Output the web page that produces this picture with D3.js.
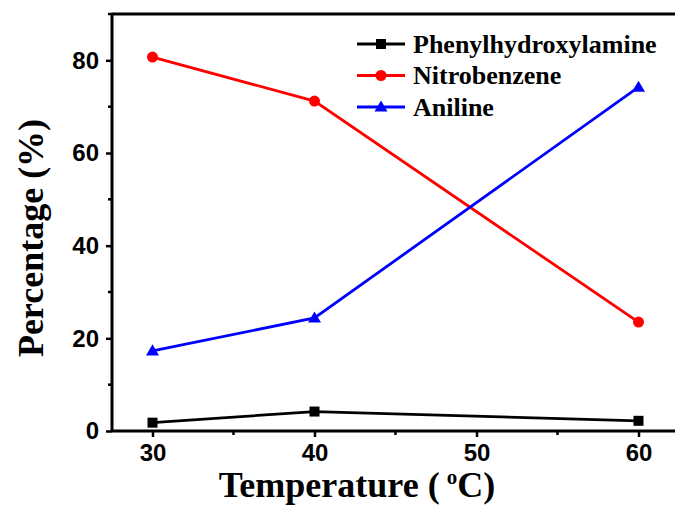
<!DOCTYPE html>
<html>
<head>
<meta charset="utf-8">
<script src="https://cdn.jsdelivr.net/npm/d3@7"></script>
<style>
  html, body { margin: 0; padding: 0; background: #fff; }
  svg { display: block; }
</style>
</head>
<body>
<svg id="chart" width="675" height="508"></svg>
<script>
// Reaction temperatures (°C)
const temperatures = [30, 40, 60];
// Product distribution (%) at each temperature
const phenylhydroxylamine = [1.8, 4.2, 2.2];
const nitrobenzene = [80.7, 71.2, 23.5];
const aniline = [17.3, 24.4, 74.2];
const seriesNames = ["Phenylhydroxylamine", "Nitrobenzene", "Aniline"];
const xTicks = [30, 40, 50, 60];
const yTicks = [0, 20, 40, 60, 80];

const svg = d3.select("#chart");
const margin = { left: 112, top: 14, right: -4, bottom: 77 };
const W = 675, H = 508;

const x = d3.scaleLinear().domain([27.5, 62.5]).range([margin.left, W - margin.right]);
const y = d3.scaleLinear().domain([0, 90]).range([H - margin.bottom, margin.top]);

const series = [
  { name: seriesNames[0], values: phenylhydroxylamine, color: "#000000", symbol: "square" },
  { name: seriesNames[1], values: nitrobenzene, color: "#ff0000", symbol: "circle" },
  { name: seriesNames[2], values: aniline, color: "#0000ff", symbol: "triangle" }
];

function drawSymbol(g, kind, cx, cy, color) {
  if (kind === "square") {
    g.append("rect").attr("x", cx - 5).attr("y", cy - 5).attr("width", 10).attr("height", 10).attr("fill", color);
  } else if (kind === "circle") {
    g.append("circle").attr("cx", cx).attr("cy", cy).attr("r", 5.5).attr("fill", color);
  } else {
    const s = 6.5;
    g.append("path")
      .attr("d", `M${cx},${cy - s}L${cx + s},${cy + s * 0.7}L${cx - s},${cy + s * 0.7}Z`)
      .attr("fill", color);
  }
}

// Frame: top border line
svg.append("line")
  .attr("x1", margin.left).attr("x2", W)
  .attr("y1", y(90)).attr("y2", y(90))
  .attr("stroke", "#000").attr("stroke-width", 3);

// Axes
const xAxis = d3.axisBottom(x).tickValues(xTicks).tickSize(6).tickPadding(7).tickFormat(d3.format("d"));
const yAxis = d3.axisLeft(y).tickValues(yTicks).tickSize(6).tickPadding(7).tickFormat(d3.format("d"));

const gx = svg.append("g").attr("transform", `translate(0,${y(0)})`).call(xAxis);
const gy = svg.append("g").attr("transform", `translate(${margin.left},0)`).call(yAxis);

[gx, gy].forEach(g => {
  g.select(".domain").attr("stroke", "#000").attr("stroke-width", 3);
  g.selectAll(".tick line").attr("stroke", "#000").attr("stroke-width", 2.5);
  g.selectAll(".tick text")
    .attr("fill", "#000")
    .style("font-family", "'Liberation Sans', Arial, sans-serif")
    .style("font-weight", "bold")
    .style("font-size", "24px");
});
gx.select(".domain").attr("d", `M${margin.left},0H${W}`);
gy.select(".domain").attr("d", `M0,${y(0)}V${y(90)}`);

// Minor ticks
const minorX = [35, 45, 55];
const minorY = [10, 30, 50, 70, 90];
svg.append("g").selectAll("line").data(minorX).join("line")
  .attr("x1", d => x(d)).attr("x2", d => x(d))
  .attr("y1", y(0)).attr("y2", y(0) + 4)
  .attr("stroke", "#000").attr("stroke-width", 2.5);
svg.append("g").selectAll("line").data(minorY).join("line")
  .attr("x1", margin.left).attr("x2", margin.left - 4)
  .attr("y1", d => y(d)).attr("y2", d => y(d))
  .attr("stroke", "#000").attr("stroke-width", 2.5);

// Data lines and markers
const line = d3.line().x((d, i) => x(temperatures[i])).y(d => y(d));
series.forEach(s => {
  svg.append("path")
    .datum(s.values)
    .attr("d", line)
    .attr("fill", "none")
    .attr("stroke", s.color)
    .attr("stroke-width", 2.8);
  const g = svg.append("g");
  s.values.forEach((v, i) => drawSymbol(g, s.symbol, x(temperatures[i]), y(v), s.color));
});

// Legend
const legend = svg.append("g");
series.forEach((s, i) => {
  const ly = 44 + i * 31.5;
  legend.append("line")
    .attr("x1", 357).attr("x2", 405).attr("y1", ly).attr("y2", ly)
    .attr("stroke", s.color).attr("stroke-width", 2.8);
  drawSymbol(legend, s.symbol, 381, ly, s.color);
  legend.append("text")
    .attr("x", 413).attr("y", ly + 8.5)
    .attr("fill", "#000")
    .style("font-family", "'Liberation Serif', 'Times New Roman', serif")
    .style("font-weight", "bold")
    .style("font-size", "26px")
    .text(s.name);
});

// Axis titles
const titleFont = "'Liberation Serif', 'Times New Roman', serif";
const xt = svg.append("text")
  .attr("x", 357).attr("y", 497)
  .attr("text-anchor", "middle")
  .style("font-family", titleFont).style("font-weight", "bold").style("font-size", "36px")
  .attr("fill", "#000");
xt.append("tspan").text("Temperature (\u2009");
xt.append("tspan").attr("dy", -13).style("font-size", "21px").text("o");
xt.append("tspan").attr("dy", 13).text("C)");

svg.append("text")
  .attr("transform", `translate(43,${238}) rotate(-90)`)
  .attr("text-anchor", "middle")
  .style("font-family", titleFont).style("font-weight", "bold").style("font-size", "36px")
  .attr("fill", "#000")
  .text("Percentage (%)");
</script>
</body>
</html>
